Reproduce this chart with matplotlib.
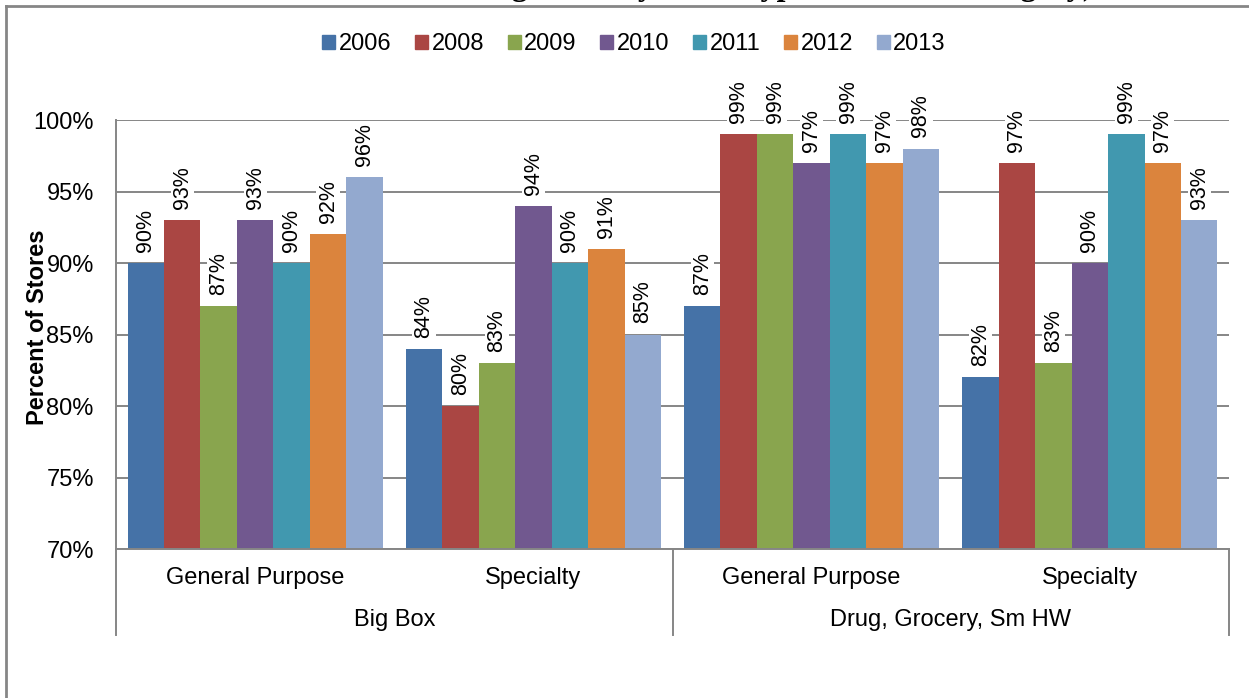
import matplotlib
matplotlib.use("Agg")
import matplotlib.pyplot as plt
import matplotlib.transforms as mtransforms
from matplotlib.lines import Line2D
from matplotlib.patches import Patch
import numpy as np

plt.rcParams['font.family'] = ['Liberation Sans', 'DejaVu Sans']

years = ['2006', '2008', '2009', '2010', '2011', '2012', '2013']
colors = ['#4572A7', '#AA4643', '#89A54E', '#71588F', '#4198AF', '#DB843D', '#93A9CF']

store_types = ['General Purpose', 'Specialty', 'General Purpose', 'Specialty']
store_groups = ['Big Box', 'Drug, Grocery, Sm HW']

# percent of stores, one list per year: BB-GP, BB-Spec, DG-GP, DG-Spec
pct = {
    '2006': [90, 84, 87, 82],
    '2008': [93, 80, 99, 97],
    '2009': [87, 83, 99, 83],
    '2010': [93, 94, 97, 90],
    '2011': [90, 90, 99, 99],
    '2012': [92, 91, 97, 97],
    '2013': [96, 85, 98, 93],
}

title = ('Percent of Stores Meeting the Standard (All Stores\n'
         'Offering Items by Store Type and Store Category)')

W, H = 1249, 698
fig = plt.figure(figsize=(W / 100, H / 100), dpi=100)
ax = fig.add_axes([116 / W, 1 - 549 / H, (1229 - 116) / W, (549 - 120) / H])

grey = '#868686'
x = np.arange(len(store_types))
bw = 0.131
for i, yr in enumerate(years):
    xs = x + (i - 3) * bw
    vals = pct[yr]
    ax.bar(xs, vals, width=bw, color=colors[i], zorder=2)
    for xi, v in zip(xs, vals):
        ax.annotate(f'{v}%', (xi, v), xytext=(0, 8), textcoords='offset points',
                    rotation=90, ha='center', va='bottom', fontsize=15.5,
                    annotation_clip=False, zorder=4,
                    bbox=dict(boxstyle='square,pad=0.05', fc='white', ec='none'))

ax.set_xlim(-0.5, 3.5)
ax.set_ylim(70, 100)
ax.set_yticks(range(70, 101, 5))
ax.set_yticklabels([f'{t}%' for t in range(70, 101, 5)], fontsize=17)
ax.tick_params(axis='y', length=0, pad=16)
ax.set_xticks([])
ax.yaxis.grid(True, color=grey, lw=1.4, zorder=0)
ax.set_axisbelow(True)
for s in ['top', 'right']:
    ax.spines[s].set_visible(False)
for s in ['left', 'bottom']:
    ax.spines[s].set_color(grey)
    ax.spines[s].set_linewidth(1.4)

# two-level category axis below the plot
tr = mtransforms.blended_transform_factory(ax.transData, fig.transFigure)
for sep in [-0.5, 1.5, 3.5]:
    ax.add_line(Line2D([sep, sep], [1 - 549 / H, 1 - 635 / H], transform=tr,
                       color=grey, lw=1.4, clip_on=False))
for xi, lab in zip(x, store_types):
    ax.text(xi, 1 - 578 / H, lab, transform=tr, ha='center', va='center', fontsize=17)
for gi, lab in enumerate(store_groups):
    ax.text(gi * 2 + 0.5, 1 - 620 / H, lab, transform=tr, ha='center', va='center', fontsize=17)

fig.text(38 / W, 1 - 327 / H, 'Percent of Stores', rotation=90, ha='center', va='center',
         fontsize=17, fontweight='bold')

handles = [Patch(color=c, label=y) for c, y in zip(colors, years)]
fig.legend(handles=handles, loc='center', bbox_to_anchor=(634 / W, 1 - 44 / H), ncol=7,
           frameon=False, fontsize=17, handlelength=0.55, handleheight=0.55,
           handletextpad=0.15, columnspacing=1.0, borderpad=0)

# title sits mostly above the page edge
fig.text(752 / W, 1 + 5.5 / H, title, ha='center', va='baseline', multialignment='center',
         fontsize=23, fontweight='bold', family=['Liberation Serif', 'DejaVu Serif'])

# outer frame
fig.add_artist(Line2D([6 / W, 1], [1 - 6 / H, 1 - 6 / H], transform=fig.transFigure, color=grey, lw=2))
fig.add_artist(Line2D([6 / W, 6 / W], [1 - 6 / H, 0], transform=fig.transFigure, color=grey, lw=2))

fig.savefig('out.png', dpi=100)
